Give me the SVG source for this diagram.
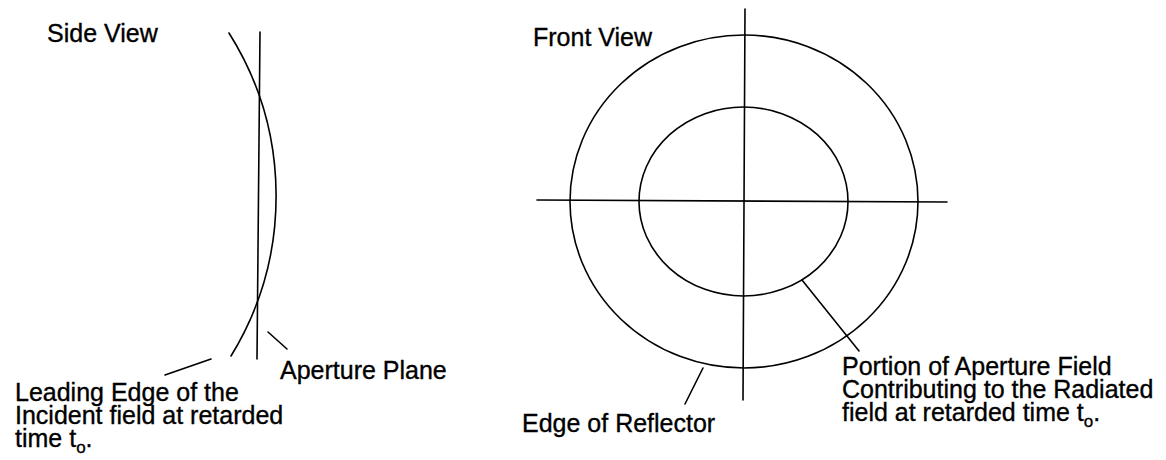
<svg xmlns="http://www.w3.org/2000/svg" width="1166" height="460" viewBox="0 0 1166 460">
<style>
.ln{fill:none;stroke:#000;stroke-width:1.6;stroke-linecap:round}
.t{font-family:"Liberation Sans",Arial,sans-serif;font-size:25px;fill:#000;stroke:#000;stroke-width:0.35}
.sub{font-size:17px}
</style>
<rect width="1166" height="460" fill="#fff"/>
<g id="side-view">
<text class="t" x="47" y="42">Side View</text>
<path class="ln" d="M229,33 A306,306 0 0 1 231,356"/>
<line class="ln" x1="260" y1="32" x2="257" y2="359" stroke-width="1.9"/>
</g>
<g id="front-view">
<text class="t" x="533" y="46">Front View</text>
<ellipse class="ln" cx="744" cy="201.5" rx="174" ry="166.5"/>
<ellipse class="ln" cx="743.5" cy="201.5" rx="104.5" ry="94.5"/>
<line class="ln" x1="745" y1="9" x2="743" y2="400"/>
<line class="ln" x1="537" y1="200" x2="947" y2="202"/>
</g>
<g id="connectors">
<line class="ln" x1="211" y1="359" x2="165" y2="375"/>
<line class="ln" x1="268" y1="332" x2="287" y2="349"/>
<line class="ln" x1="703" y1="368" x2="685" y2="404"/>
<line class="ln" x1="802" y1="280" x2="859" y2="351"/>
</g>
<g id="label-leading-edge">
<text class="t" x="15" y="401">Leading Edge of the</text>
<text class="t" x="15" y="424">Incident field at retarded</text>
<text class="t" x="15" y="447">time t<tspan class="sub" dy="6">o</tspan><tspan dy="-6">.</tspan></text>
</g>
<g id="label-aperture-plane">
<text class="t" x="280" y="379">Aperture Plane</text>
</g>
<g id="label-edge-reflector">
<text class="t" x="522" y="432">Edge of Reflector</text>
</g>
<g id="label-portion">
<text class="t" x="842" y="375">Portion of Aperture Field</text>
<text class="t" x="842" y="398">Contributing to the Radiated</text>
<text class="t" x="842" y="421">field at retarded time t<tspan class="sub" dy="6">o</tspan><tspan dy="-6">.</tspan></text>
</g>
</svg>
